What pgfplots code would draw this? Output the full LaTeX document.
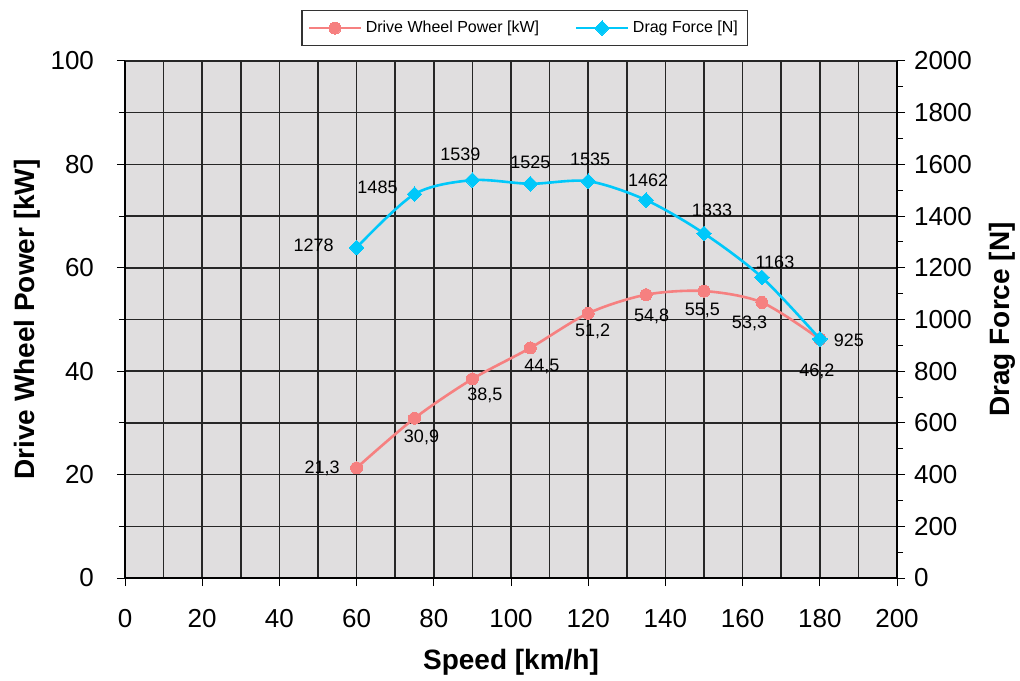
\documentclass[border=0pt]{standalone}
\usepackage{pgfplots}
\pgfplotsset{compat=1.18}
\usepackage{pgfplotstable}
\usepackage{fontspec}
\setmainfont{Liberation Sans}

\definecolor{pwr}{RGB}{246,128,128}
\definecolor{drg}{RGB}{0,200,250}
\definecolor{plotbg}{RGB}{224,222,223}

\pgfplotstableread{
x   y    lbl
60  21.3 21,3
75  30.9 30,9
90  38.5 38,5
105 44.5 44,5
120 51.2 51,2
135 54.8 54,8
150 55.5 55,5
165 53.3 53,3
180 46.2 46,2
}\powertable

\pgfplotstableread{
x   y    lbl
60  1278 1278
75  1485 1485
90  1539 1539
105 1525 1525
120 1535 1535
135 1462 1462
150 1333 1333
165 1163 1163
180 925  925
}\dragtable

\newcommand\labfont{\fontsize{14}{16}\selectfont\bfseries}

\pgfplotsset{
  chartbase/.style={
    scale only axis,
    width=386pt, height=258.5pt,
    at={(0,0)}, anchor=south west,
    xmin=0, xmax=200,
    tick align=outside,
    major tick length=4pt,
    minor tick length=3pt,
    tick style={black, line width=0.5pt},
    /pgf/number format/assume math mode=true,
    /pgf/number format/1000 sep={},
    ticklabel style={font=\fontsize{13}{15}\selectfont},
  },
  lbls/.style={
    point meta=explicit symbolic,
    nodes near coords,
    every node near coord/.append style={text=black, inner sep=3.33pt,
      font=\fontsize{9}{10}\selectfont},
  },
  pwrstyle/.style={color=pwr, line width=1.3pt, smooth, mark=*,
    mark size=3pt, mark options={fill=pwr, draw=pwr, line width=0pt}},
  drgstyle/.style={color=drg, line width=1.3pt, smooth, mark=square*,
    mark size=2.6pt, mark options={fill=drg, draw=drg, rotate=45, line width=0pt}},
}

\begin{document}
\begin{tikzpicture}
\useasboundingbox (-62.5pt,-51pt) rectangle (447.5pt,289pt);

\begin{axis}[
  chartbase,
  axis background/.style={fill=plotbg},
  axis line style={black, line width=0.8pt},
  ymin=0, ymax=100,
  xtick={0,20,...,200},
  minor xtick={10,30,...,190},
  minor x tick style={draw=none},
  ytick={0,20,...,100},
  minor ytick={10,30,...,90},
  xmajorgrids, xminorgrids, ymajorgrids, yminorgrids,
  major grid style={black!85, line width=0.8pt},
  minor grid style={black!85, line width=0.8pt},
  axis y line*=left,
  axis x line*=bottom,
  xticklabel style={yshift=-8pt},
  yticklabel style={xshift=-8pt},
  xlabel={Speed [km/h]},
  ylabel={Drive Wheel Power [kW]},
  every axis x label/.style={at={(axis description cs:0.5,-0.1625)}, anchor=center, font=\labfont},
  every axis y label/.style={at={(axis description cs:-0.127,0.5)}, rotate=90, anchor=center, font=\labfont},
]
\addplot[pwrstyle, lbls,
  coordinate style/.condition={\coordindex==0}{anchor=east, xshift=-5.2pt},
  coordinate style/.condition={\coordindex==1}{anchor=north, xshift=3.5pt, yshift=-2.7pt},
  coordinate style/.condition={\coordindex==2}{anchor=north, xshift=6.2pt, yshift=-1.2pt},
  coordinate style/.condition={\coordindex==3}{anchor=north, xshift=5.8pt, yshift=-2.2pt},
  coordinate style/.condition={\coordindex==4}{anchor=north, xshift=2.2pt, yshift=-2.2pt},
  coordinate style/.condition={\coordindex==5}{anchor=north, xshift=2.8pt, yshift=-3.7pt},
  coordinate style/.condition={\coordindex==6}{anchor=north, xshift=-0.8pt, yshift=-2.7pt},
  coordinate style/.condition={\coordindex==7}{anchor=north, xshift=-6.2pt, yshift=-3.2pt},
  coordinate style/.condition={\coordindex==8}{anchor=north, xshift=-1.5pt, yshift=-9.2pt},
] table[x=x, y=y, meta=lbl] {\powertable};
\end{axis}

\begin{axis}[
  chartbase,
  ymin=0, ymax=2000,
  ytick={0,200,...,2000},
  minor ytick={100,300,...,1900},
  xtick=\empty,
  grid=none,
  axis x line=none,
  axis y line*=right,
  axis line style={black, line width=0.8pt},
  yticklabel style={xshift=1pt},
  ylabel={Drag Force [N]},
  every axis y label/.style={at={(axis description cs:1.136,0.5)}, rotate=90, anchor=center, font=\labfont},
  legend columns=-1,
  legend style={at={(0.518,1)}, anchor=south, yshift=7.5pt,
    draw=black!80, line width=0.6pt, fill=white,
    font=\fontsize{8}{9}\selectfont, inner xsep=3pt, inner ysep=3pt,
    /tikz/every odd column/.append style={column sep=0pt},
    /tikz/every even column/.append style={column sep=16pt}},
  legend image code/.code={
    \draw[mark repeat=2, mark phase=2] plot coordinates {(0cm,0cm) (0.45cm,0cm) (0.9cm,0cm)};
  },
]
\addlegendimage{pwrstyle}
\addlegendentry{Drive Wheel Power [kW]}
\addplot[drgstyle, lbls,
  coordinate style/.condition={\coordindex==0}{anchor=east, xshift=-8.2pt, yshift=1pt},
  coordinate style/.condition={\coordindex==1}{anchor=south, xshift=-18.5pt, yshift=-2.9pt},
  coordinate style/.condition={\coordindex==2}{anchor=south, xshift=-6pt, yshift=6.2pt},
  coordinate style/.condition={\coordindex==3}{anchor=south, xshift=0pt, yshift=4.2pt},
  coordinate style/.condition={\coordindex==4}{anchor=south, xshift=1pt, yshift=4.6pt},
  coordinate style/.condition={\coordindex==5}{anchor=south, xshift=1pt, yshift=3.2pt},
  coordinate style/.condition={\coordindex==6}{anchor=south, xshift=4pt, yshift=5.2pt},
  coordinate style/.condition={\coordindex==7}{anchor=south, xshift=6.5pt, yshift=1.2pt},
  coordinate style/.condition={\coordindex==8}{anchor=west, xshift=3.7pt, yshift=-0.5pt},
] table[x=x, y=y, meta=lbl] {\dragtable};
\addlegendentry{Drag Force [N]}
\end{axis}
\end{tikzpicture}
\end{document}
